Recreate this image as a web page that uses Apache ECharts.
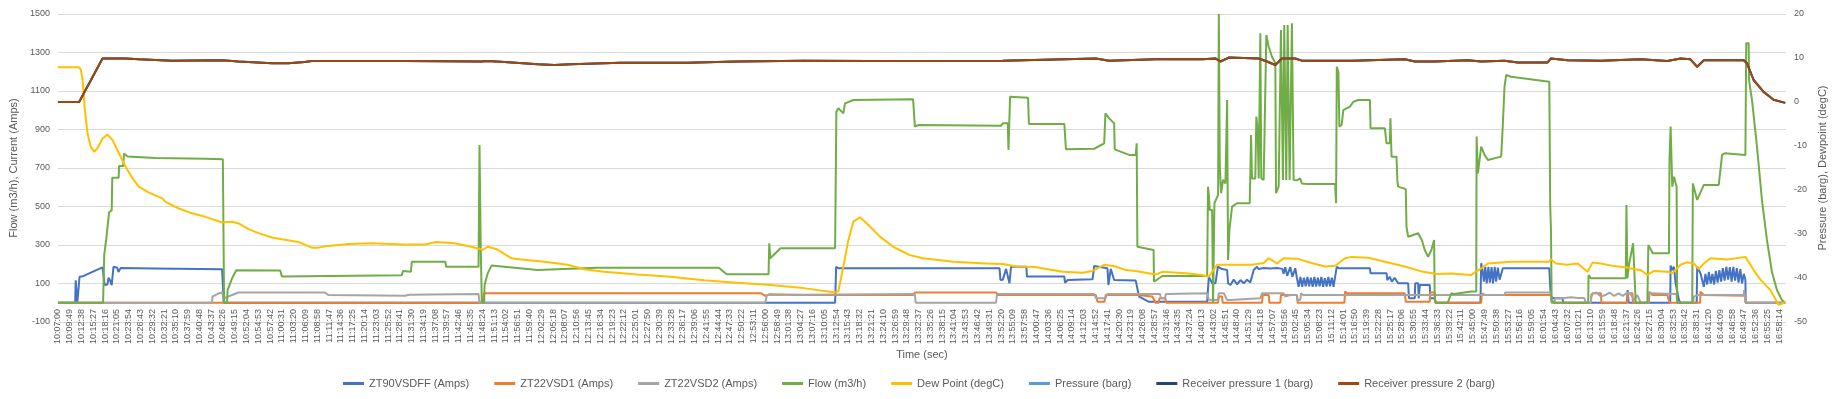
<!DOCTYPE html>
<html>
<head>
<meta charset="utf-8">
<title>Flow, current, pressure and dew point</title>
<script src="https://cdn.jsdelivr.net/npm/echarts@6.0.0/dist/echarts.min.js"></script>
<style>
  html, body { margin: 0; padding: 0; background: #fff; }
  #chart { width: 1838px; height: 399px; }
</style>
</head>
<body>
<div id="chart"></div>
<script>
// time axis: one label every 169 s starting at 10:07:00
var startTime = '10:07:00';
var tickStep = 169;
var tickCount = 147;
var endTime = '16:59:50';

// [time, value] readings per series
var zt90 = [
    ['10:07:00', 0], ['10:11:07', 0], ['10:11:15', 117], ['10:11:30', 110], ['10:11:38', 0], ['10:12:00', 0],
    ['10:12:10', 135], ['10:13:00', 138], ['10:17:39', 184], ['10:18:10', 92], ['10:18:50', 95], ['10:19:05', 130],
    ['10:19:25', 118], ['10:19:51', 92], ['10:20:16', 187], ['10:21:10', 182], ['10:21:27', 160], ['10:21:36', 153],
    ['10:22:00', 180], ['10:30:00', 178], ['10:46:13', 174], ['10:46:30', 174], ['10:46:36', 0], ['13:12:40', 0],
    ['13:12:55', 187], ['13:13:30', 179], ['13:51:57', 179], ['13:52:10', 118], ['13:52:44', 120], ['13:53:31', 176],
    ['13:54:19', 101], ['13:54:42', 187], ['13:58:21', 187], ['13:58:30', 136], ['14:07:26', 136], ['14:07:35', 104],
    ['14:08:13', 118], ['14:14:10', 122], ['14:14:34', 191], ['14:17:44', 179], ['14:17:58', 92], ['14:18:31', 176],
    ['14:19:20', 118], ['14:24:29', 115], ['14:25:17', 32], ['14:27:40', 5], ['14:41:33', 5], ['14:41:57', 136],
    ['14:42:44', 101], ['14:43:32', 101], ['14:44:06', 187], ['14:45:07', 175], ['14:46:19', 170], ['14:46:33', 101],
    ['14:47:06', 92], ['14:47:54', 120], ['14:48:42', 95], ['14:49:30', 118], ['14:50:17', 101], ['14:51:05', 120],
    ['14:51:52', 105], ['14:52:40', 170], ['14:53:27', 187], ['14:53:52', 175], ['14:55:03', 180], ['14:56:38', 178],
    ['14:58:14', 180], ['14:59:30', 176], ['14:59:49', 150], ['15:00:12', 185], ['15:00:40', 140], ['15:01:24', 185],
    ['15:01:55', 135], ['15:02:36', 180], ['15:02:59', 130], ['15:03:24', 83], ['15:03:50', 134], ['15:04:15', 83],
    ['15:04:40', 130], ['15:05:05', 85], ['15:05:30', 134], ['15:05:55', 86], ['15:06:20', 130], ['15:06:45', 83],
    ['15:07:10', 134], ['15:07:35', 84], ['15:08:00', 130], ['15:08:25', 86], ['15:08:50', 134], ['15:09:15', 83],
    ['15:09:40', 128], ['15:10:05', 84], ['15:10:30', 134], ['15:10:55', 86], ['15:11:20', 130], ['15:11:45', 83],
    ['15:12:07', 134], ['15:12:31', 187], ['15:13:00', 179], ['15:20:26', 179], ['15:20:35', 153], ['15:24:24', 153],
    ['15:24:35', 117], ['15:25:10', 135], ['15:25:40', 110], ['15:26:20', 130], ['15:27:11', 101], ['15:29:34', 101],
    ['15:29:45', 23], ['15:31:09', 23], ['15:31:15', 101], ['15:31:57', 101], ['15:32:05', 23], ['15:32:21', 92],
    ['15:34:44', 92], ['15:34:50', 23], ['15:35:55', 23], ['15:36:05', 0], ['15:46:50', 0], ['15:47:01', 205],
    ['15:47:20', 170], ['15:47:40', 110], ['15:48:00', 187], ['15:48:20', 101], ['15:48:45', 187], ['15:49:05', 105],
    ['15:49:30', 185], ['15:49:50', 101], ['15:50:15', 187], ['15:50:35', 110], ['15:51:00', 183], ['15:51:25', 120],
    ['15:52:11', 179], ['16:03:17', 179], ['16:03:30', 83], ['16:03:41', 31], ['16:04:28', 23], ['16:06:28', 23],
    ['16:06:35', 0], ['16:21:50', 0], ['16:22:00', 66], ['16:22:15', 0], ['16:32:10', 0], ['16:32:16', 193],
    ['16:32:40', 170], ['16:33:04', 187], ['16:33:28', 101], ['16:34:15', 14], ['16:34:39', 0], ['16:38:30', 0],
    ['16:38:37', 187], ['16:39:24', 153], ['16:40:12', 83], ['16:40:35', 150], ['16:41:00', 95], ['16:41:25', 160],
    ['16:41:50', 100], ['16:42:15', 150], ['16:42:40', 95], ['16:43:05', 165], ['16:43:30', 105], ['16:43:55', 170],
    ['16:44:20', 110], ['16:44:45', 180], ['16:45:10', 115], ['16:45:35', 187], ['16:46:00', 120], ['16:46:25', 185],
    ['16:46:50', 110], ['16:47:15', 187], ['16:47:40', 115], ['16:48:05', 180], ['16:48:30', 105], ['16:48:55', 175],
    ['16:49:20', 100], ['16:49:45', 150], ['16:50:08', 120], ['16:50:12', 0], ['16:59:39', 0]
];

var zt22a = [
    ['10:07:00', 0], ['11:48:31', 0], ['11:48:40', 49], ['12:55:00', 49], ['12:56:00', 36], ['12:57:00', 44],
    ['13:05:07', 40], ['13:31:18', 40], ['13:31:43', 53], ['13:51:08', 53], ['13:51:30', 40], ['14:14:57', 40],
    ['14:15:21', 5], ['14:17:00', 5], ['14:17:20', 40], ['14:24:53', 40], ['14:25:07', 32], ['14:28:27', 32],
    ['14:29:14', 0], ['14:29:58', 0], ['14:30:10', 23], ['14:31:35', 23], ['14:31:45', 0], ['14:44:10', 0],
    ['14:44:20', 32], ['14:45:07', 32], ['14:45:15', 0], ['14:54:39', 0], ['14:54:50', 40], ['14:56:15', 40],
    ['14:56:25', 0], ['14:59:01', 0], ['14:59:10', 40], ['15:02:59', 40], ['15:03:10', 0], ['15:14:20', 0],
    ['15:14:29', 58], ['15:15:00', 49], ['15:28:46', 49], ['15:29:00', 5], ['15:34:44', 5], ['15:34:50', 53],
    ['15:35:55', 53], ['15:36:05', 0], ['15:47:01', 0], ['15:47:10', 49], ['15:48:00', 40], ['16:03:41', 40],
    ['16:03:50', 0], ['16:13:13', 0], ['16:13:20', 32], ['16:13:37', 49], ['16:15:36', 49], ['16:15:45', 0],
    ['16:21:57', 0], ['16:22:05', 49], ['16:23:09', 49], ['16:23:15', 0], ['16:27:06', 0], ['16:27:12', 58],
    ['16:27:54', 40], ['16:28:18', 49], ['16:31:29', 40], ['16:31:52', 40], ['16:32:00', 0], ['16:39:20', 0],
    ['16:39:24', 58], ['16:40:12', 40], ['16:50:08', 36], ['16:50:12', 0], ['16:59:39', 0]
];

var zt22b = [
    ['10:07:00', 0], ['10:43:50', 0], ['10:43:55', 32], ['10:45:25', 49], ['10:46:13', 53], ['10:46:36', 23],
    ['10:48:36', 40], ['10:50:10', 53], ['11:10:49', 53], ['11:11:36', 40], ['11:29:52', 36], ['11:31:00', 42],
    ['11:47:29', 45], ['11:47:43', 0], ['12:55:59', 0], ['12:56:22', 40], ['13:05:07', 42], ['13:31:43', 45],
    ['13:31:55', 0], ['13:51:08', 0], ['13:51:20', 45], ['14:14:34', 45], ['14:15:00', 23], ['14:17:15', 23],
    ['14:17:40', 45], ['14:30:19', 45], ['14:30:30', 23], ['14:31:30', 23], ['14:31:40', 45], ['14:41:33', 49],
    ['14:41:57', 14], ['14:44:06', 14], ['14:44:20', 49], ['14:45:31', 49], ['14:46:19', 14], ['14:47:06', 14],
    ['14:47:20', 23], ['14:54:15', 23], ['14:54:39', 49], ['14:59:49', 49], ['15:00:12', 32], ['15:01:24', 40],
    ['15:02:59', 40], ['15:03:10', 14], ['15:03:47', 14], ['15:04:00', 49], ['15:04:30', 40], ['15:52:35', 40],
    ['15:52:45', 53], ['16:03:41', 53], ['16:03:50', 0], ['16:04:28', 0], ['16:04:40', 23], ['16:06:28', 23],
    ['16:07:00', 25], ['16:08:30', 28], ['16:10:03', 25], ['16:11:38', 25], ['16:12:00', 0], ['16:13:13', 0],
    ['16:13:20', 45], ['16:14:30', 53], ['16:15:36', 32], ['16:16:40', 40], ['16:17:40', 53], ['16:18:46', 36],
    ['16:19:50', 49], ['16:20:50', 36], ['16:21:57', 53], ['16:22:21', 63], ['16:22:45', 45], ['16:23:30', 14],
    ['16:24:20', 40], ['16:25:07', 0], ['16:26:57', 0], ['16:27:06', 49], ['16:33:42', 45], ['16:33:50', 0],
    ['16:37:40', 0], ['16:37:49', 32], ['16:38:37', 40], ['16:49:44', 40], ['16:49:50', 66], ['16:50:08', 66],
    ['16:50:12', 0], ['16:59:39', 0]
];

var flow = [
    ['10:07:00', 0], ['10:17:47', 0], ['10:18:04', 250], ['10:18:33', 330], ['10:19:13', 470], ['10:19:51', 480],
    ['10:19:59', 650], ['10:21:31', 650], ['10:21:36', 710], ['10:22:36', 710], ['10:22:47', 775], ['10:23:40', 760],
    ['10:30:20', 752], ['10:42:14', 748], ['10:46:24', 745], ['10:46:32', 755], ['10:46:42', 0], ['10:47:24', 0],
    ['10:47:32', 66], ['10:48:36', 127], ['10:49:37', 169], ['11:00:06', 168], ['11:00:30', 137], ['11:29:09', 143],
    ['11:29:25', 165], ['11:31:20', 161], ['11:31:32', 213], ['11:39:33', 213], ['11:39:45', 187], ['11:47:29', 187],
    ['11:47:43', 820], ['11:48:00', 300], ['11:48:16', 0], ['11:48:50', 0], ['11:48:55', 92], ['11:49:42', 154],
    ['11:50:35', 193], ['12:01:37', 170], ['12:15:49', 182], ['12:44:52', 182], ['12:46:47', 148], ['12:56:46', 148],
    ['12:56:56', 309], ['12:57:11', 231], ['12:59:38', 283], ['13:12:40', 283], ['13:12:58', 992], ['13:13:27', 1010],
    ['13:14:38', 984], ['13:15:02', 1036], ['13:17:01', 1053], ['13:31:18', 1057], ['13:31:43', 915], ['13:32:30', 923],
    ['13:52:20', 920], ['13:52:44', 932], ['13:53:55', 932], ['13:54:05', 794], ['13:54:28', 1070], ['13:58:46', 1065],
    ['13:58:58', 929], ['14:07:26', 929], ['14:07:49', 797], ['14:14:34', 800], ['14:16:57', 828], ['14:17:15', 984],
    ['14:18:08', 958], ['14:19:20', 932], ['14:19:28', 797], ['14:22:54', 768], ['14:24:29', 768], ['14:24:43', 828],
    ['14:24:53', 291], ['14:28:45', 274], ['14:28:51', 109], ['14:30:50', 139], ['14:41:33', 139], ['14:41:45', 603],
    ['14:41:57', 560], ['14:42:10', 482], ['14:42:44', 482], ['14:42:58', 0], ['14:43:10', 0], ['14:43:17', 517],
    ['14:44:10', 560], ['14:44:20', 1500], ['14:44:34', 707], ['14:44:53', 569], ['14:45:21', 638], ['14:45:55', 620],
    ['14:46:19', 1053], ['14:46:33', 222], ['14:46:52', 378], ['14:47:30', 499], ['14:48:42', 517], ['14:51:43', 517],
    ['14:51:52', 672], ['14:52:02', 871], ['14:52:16', 646], ['14:53:03', 646], ['14:53:18', 967], ['14:53:37', 900],
    ['14:53:52', 646], ['14:54:15', 1400], ['14:54:29', 646], ['14:55:03', 638], ['14:55:41', 1391], ['14:56:15', 1330],
    ['14:57:02', 1278], ['14:57:50', 1244], ['14:58:00', 569], ['14:58:38', 603], ['14:59:01', 612], ['14:59:11', 1417],
    ['14:59:39', 638], ['14:59:58', 1443], ['15:00:27', 638], ['15:00:47', 1443], ['15:01:15', 638], ['15:01:48', 1452],
    ['15:02:12', 638], ['15:02:59', 636], ['15:03:47', 646], ['15:04:10', 620], ['15:05:22', 617], ['15:12:07', 617],
    ['15:12:21', 517], ['15:12:31', 1226], ['15:12:54', 1200], ['15:13:08', 915], ['15:13:41', 925], ['15:14:05', 1001],
    ['15:15:40', 1019], ['15:16:28', 1044], ['15:17:40', 1053], ['15:20:26', 1053], ['15:20:35', 906], ['15:24:00', 906],
    ['15:24:24', 828], ['15:25:12', 828], ['15:25:20', 958], ['15:25:36', 759], ['15:26:47', 759], ['15:27:00', 629],
    ['15:27:11', 603], ['15:29:00', 590], ['15:29:10', 395], ['15:29:34', 343], ['15:31:57', 361], ['15:32:50', 326],
    ['15:33:32', 274], ['15:34:20', 239], ['15:35:07', 274], ['15:35:46', 326], ['15:35:55', 14], ['15:36:19', 0],
    ['15:39:00', 0], ['15:39:53', 49], ['15:40:30', 45], ['15:44:38', 58], ['15:45:50', 58], ['15:45:55', 863],
    ['15:46:14', 672], ['15:47:01', 811], ['15:47:49', 768], ['15:48:37', 742], ['15:51:47', 759], ['15:52:11', 923],
    ['15:52:35', 1122], ['15:52:59', 1183], ['15:54:10', 1174], ['16:03:17', 1148], ['16:03:30', 508], ['16:03:41', 378],
    ['16:03:51', 14], ['16:04:28', 0], ['16:12:35', 0], ['16:12:40', 144], ['16:13:13', 127], ['16:21:33', 127],
    ['16:21:43', 508], ['16:21:57', 127], ['16:22:21', 200], ['16:23:18', 309], ['16:23:56', 0], ['16:26:43', 0],
    ['16:26:57', 300], ['16:28:00', 257], ['16:31:52', 257], ['16:32:00', 742], ['16:32:16', 915], ['16:32:40', 603],
    ['16:33:04', 655], ['16:33:42', 603], ['16:33:50', 0], ['16:37:26', 0], ['16:37:35', 620], ['16:38:37', 534],
    ['16:40:12', 612], ['16:43:46', 612], ['16:44:34', 768], ['16:45:10', 776], ['16:50:08', 768], ['16:50:20', 1348],
    ['16:50:55', 1348], ['16:51:00', 1157], ['16:51:43', 1053], ['16:52:54', 811], ['16:54:05', 534], ['16:55:17', 326],
    ['16:56:28', 161], ['16:57:40', 66], ['16:58:51', 14], ['16:59:39', 0]
];

var dewPoint = [
    ['10:07:00', 7.9], ['10:12:04', 7.9], ['10:12:29', 7.3], ['10:12:53', 5.0], ['10:13:26', -1.8], ['10:14:04', -7.1],
    ['10:14:51', -10.2], ['10:15:39', -11.3], ['10:16:27', -10.5], ['10:17:39', -8.3], ['10:18:50', -7.4], ['10:20:01', -8.6],
    ['10:21:36', -11.7], ['10:23:11', -14.7], ['10:24:47', -17.3], ['10:26:22', -19.3], ['10:28:44', -20.6], ['10:31:56', -21.9],
    ['10:32:43', -22.7], ['10:35:53', -24.2], ['10:39:04', -25.3], ['10:42:14', -26.1], ['10:46:13', -27.4], ['10:48:36', -27.2],
    ['10:50:10', -27.6], ['10:52:33', -28.9], ['10:54:56', -29.8], ['10:58:07', -30.8], ['11:00:30', -31.2], ['11:04:27', -31.8],
    ['11:07:39', -33.1], ['11:09:13', -33.1], ['11:11:36', -32.7], ['11:16:22', -32.3], ['11:21:56', -32.1], ['11:29:52', -32.4],
    ['11:34:38', -32.4], ['11:37:25', -31.8], ['11:41:46', -32.1], ['11:45:45', -32.9], ['11:48:31', -33.6], ['11:49:42', -32.9],
    ['11:51:42', -33.4], ['11:55:17', -35.5], ['11:57:39', -35.8], ['12:03:12', -36.3], ['12:08:45', -37.0], ['12:12:44', -38.0],
    ['12:17:29', -38.6], ['12:25:25', -39.2], ['12:33:22', -39.7], ['12:41:18', -40.5], ['12:49:14', -41.1], ['12:57:11', -41.6],
    ['13:05:07', -42.3], ['13:12:40', -43.3], ['13:13:27', -43.0], ['13:14:38', -37.4], ['13:15:50', -31.4], ['13:17:01', -27.2],
    ['13:18:37', -26.2], ['13:21:00', -28.3], ['13:23:22', -30.6], ['13:26:32', -32.9], ['13:30:31', -34.8], ['13:33:41', -35.5],
    ['13:40:50', -36.3], ['13:48:45', -36.7], ['13:52:44', -36.8], ['13:55:54', -37.4], ['14:00:20', -37.5], ['14:07:01', -38.6],
    ['14:11:47', -38.8], ['14:14:10', -38.4], ['14:16:57', -37.0], ['14:19:43', -37.4], ['14:22:06', -38.2], ['14:24:29', -38.4],
    ['14:29:14', -39.2], ['14:30:50', -38.6], ['14:36:23', -38.9], ['14:40:21', -39.3], ['14:41:57', -39.7], ['14:43:56', -37.0],
    ['14:48:18', -37.0], ['14:52:16', -37.0], ['14:55:03', -36.6], ['14:56:15', -35.5], ['14:58:14', -36.7], ['14:59:49', -35.5],
    ['15:02:59', -35.6], ['15:06:57', -36.7], ['15:09:43', -37.4], ['15:12:07', -37.2], ['15:14:29', -35.5], ['15:16:04', -35.2],
    ['15:20:03', -35.4], ['15:24:00', -36.3], ['15:28:46', -37.4], ['15:33:08', -38.6], ['15:36:19', -39.1], ['15:39:53', -39.0],
    ['15:44:38', -39.3], ['15:47:01', -37.8], ['15:48:37', -36.7], ['15:54:10', -36.3], ['16:03:17', -36.3], ['16:03:41', -35.8],
    ['16:04:53', -36.7], ['16:07:40', -37.0], ['16:10:03', -36.7], ['16:12:26', -38.6], ['16:13:37', -36.5], ['16:15:36', -36.7],
    ['16:18:46', -37.3], ['16:21:57', -37.6], ['16:23:32', -38.0], ['16:25:07', -38.2], ['16:26:43', -39.3], ['16:28:18', -38.4],
    ['16:31:29', -38.6], ['16:32:40', -38.9], ['16:34:39', -37.0], ['16:36:14', -36.4], ['16:37:49', -36.7], ['16:39:01', -38.0],
    ['16:40:12', -36.7], ['16:41:47', -35.5], ['16:45:46', -35.8], ['16:50:08', -35.2], ['16:52:06', -38.2], ['16:53:41', -40.3],
    ['16:56:04', -42.7], ['16:58:03', -46.1], ['16:58:51', -45.9], ['16:59:39', -45.4]
];

// the three pressure traces lie on top of each other
var pressure = [
    ['10:07:00', 0], ['10:12:04', 0], ['10:17:39', 9.9], ['10:23:11', 9.9], ['10:26:22', 9.7], ['10:34:19', 9.4],
    ['10:46:13', 9.5], ['10:50:10', 9.2], ['10:58:07', 8.8], ['11:02:00', 8.8], ['11:06:00', 9.1], ['11:07:39', 9.3],
    ['11:29:52', 9.3], ['11:48:08', 9.2], ['11:49:42', 9.3], ['11:53:41', 9.1], ['12:01:37', 8.6], ['12:05:35', 8.4],
    ['12:09:34', 8.6], ['12:21:28', 8.9], ['12:37:19', 8.9], ['12:49:14', 9.2], ['13:05:07', 9.4], ['13:21:00', 9.3],
    ['13:52:44', 9.4], ['14:14:57', 9.9], ['14:18:08', 9.4], ['14:29:14', 9.7], ['14:40:21', 9.7], ['14:43:32', 9.9],
    ['14:44:43', 9.2], ['14:46:43', 10.1], ['14:53:52', 9.9], ['14:55:51', 9.2], ['14:57:50', 8.4], ['14:59:25', 9.9],
    ['15:02:36', 9.9], ['15:04:10', 9.4], ['15:16:04', 9.4], ['15:28:46', 9.7], ['15:31:09', 9.2], ['15:35:55', 9.2],
    ['15:43:51', 9.5], ['15:47:01', 9.2], ['15:52:35', 9.4], ['15:55:46', 9.0], ['16:02:54', 9.0], ['16:03:41', 9.9],
    ['16:07:40', 9.5], ['16:15:36', 9.4], ['16:25:07', 9.7], ['16:31:29', 9.3], ['16:34:39', 9.9], ['16:37:00', 9.7],
    ['16:38:37', 8.0], ['16:40:12', 9.5], ['16:49:44', 9.5], ['16:50:31', 8.8], ['16:52:06', 5.0], ['16:54:29', 2.3],
    ['16:56:52', 0.5], ['16:59:39', -0.2]
];
var receiver1 = pressure;
var receiver2 = pressure;


function clockToSec(t) {
    var p = t.split(':');
    return (+p[0]) * 3600 + (+p[1]) * 60 + (+p[2]);
}
var startSec = clockToSec(startTime);

function pad(n) {
    return n < 10 ? '0' + n : '' + n;
}
function secToClock(s) {
    s = s + startSec;
    return Math.floor(s / 3600) + ':' + pad(Math.floor(s / 60) % 60) + ':' + pad(s % 60);
}

var timeLabels = [];
for (var i = 0; i < tickCount; i++) {
    timeLabels.push(secToClock(i * tickStep));
}

function toPoints(list) {
    return list.map(function (p) {
        return [clockToSec(p[0]) - startSec, p[1]];
    });
}

function lineSeries(name, list, color, axis) {
    return {
        name: name,
        type: 'line',
        yAxisIndex: axis,
        data: toPoints(list),
        symbol: 'none',
        showSymbol: false,
        lineStyle: { width: 2, color: color },
        itemStyle: { color: color },
        animation: false
    };
}

function plainNumber(v) {
    return String(v);
}

var textColor = '#595959';
var dom = document.getElementById('chart');
var myChart = echarts.init(dom);

var option = {
    textStyle: { fontFamily: 'Liberation Sans', color: textColor },
    grid: { left: 52, right: 52, top: 14, bottom: 77 },
    legend: {
        left: 'center',
        bottom: 5,
        icon: 'rect',
        itemWidth: 21,
        itemHeight: 3,
        itemGap: 25,
        textStyle: { fontSize: 11, color: textColor }
    },
    xAxis: {
        type: 'value',
        min: 0,
        max: clockToSec(endTime) - startSec,
        interval: tickStep,
        name: 'Time (sec)',
        nameLocation: 'middle',
        nameGap: 27,
        nameMoveOverlap: false,
        nameTextStyle: { fontSize: 11, color: textColor },
        axisLine: { show: false, onZero: false },
        axisTick: { show: false },
        splitLine: { show: false },
        axisLabel: {
            rotate: 90,
            fontSize: 9,
            color: textColor,
            margin: -13,
            formatter: function (v) {
                var k = v / tickStep;
                return (k % 1 === 0 && k < timeLabels.length) ? timeLabels[k] : '';
            }
        }
    },
    yAxis: [{
        type: 'value',
        min: -100,
        max: 1500,
        interval: 200,
        name: 'Flow (m3/h), Current (Amps)',
        nameLocation: 'middle',
        nameGap: 33,
        nameTextStyle: { fontSize: 11, color: textColor },
        axisLine: { show: false },
        axisTick: { show: false },
        axisLabel: { fontSize: 9, color: textColor, formatter: plainNumber },
        splitLine: { lineStyle: { color: '#d9d9d9' } }
    }, {
        type: 'value',
        position: 'right',
        min: -50,
        max: 20,
        interval: 10,
        name: 'Pressure (barg), Dewpoint (degC)',
        nameLocation: 'middle',
        nameGap: 27,
        nameTextStyle: { fontSize: 11, color: textColor },
        axisLine: { show: false },
        axisTick: { show: false },
        axisLabel: { fontSize: 9, color: textColor, formatter: plainNumber },
        splitLine: { show: false }
    }],
    series: [
        lineSeries('ZT90VSDFF (Amps)', zt90, '#4472c4', 0),
        lineSeries('ZT22VSD1 (Amps)', zt22a, '#ed7d31', 0),
        lineSeries('ZT22VSD2 (Amps)', zt22b, '#a5a5a5', 0),
        lineSeries('Flow (m3/h)', flow, '#70ad47', 0),
        lineSeries('Dew Point (degC)', dewPoint, '#ffc000', 1),
        lineSeries('Pressure (barg)', pressure, '#5b9bd5', 1),
        lineSeries('Receiver pressure 1 (barg)', receiver1, '#264478', 1),
        lineSeries('Receiver pressure 2 (barg)', receiver2, '#9e480e', 1)
    ]
};

if (option && typeof option === 'object') {
    myChart.setOption(option);
}
</script>
</body>
</html>
